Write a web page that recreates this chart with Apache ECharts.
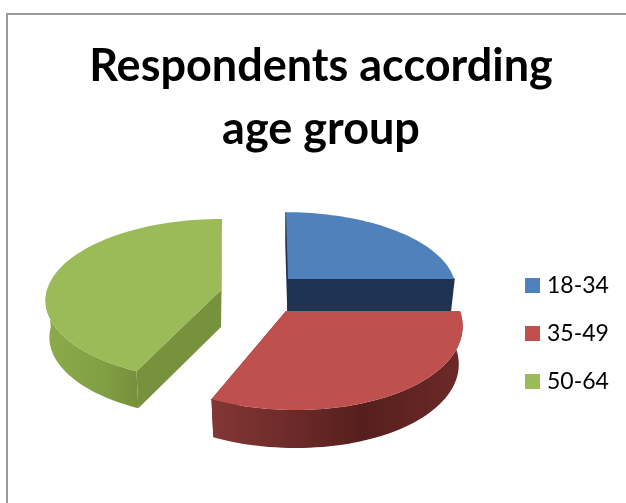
<!DOCTYPE html>
<html><head><meta charset="utf-8">
<style>html,body{margin:0;padding:0;background:#fff}#c{width:626px;height:503px}</style>
<script src="https://cdn.jsdelivr.net/npm/echarts@6/dist/echarts.min.js"></script>
</head><body><div id="c"></div>
<script>
var categories = ['18-34', '35-49', '50-64'];
var values = [25, 32, 43];
var titleLines = ['Respondents according', 'age group'];
var faceColors = ['#4f81bd', '#c0504d', '#9bbb59'];
var edgeColors = ['#1f3352', '#5a2321', '#76923c'];
var wallStops = [
  ['#1f3352', '#1f3352', '#1f3352'],
  ['#833735', '#561f1d', '#6c2a28'],
  ['#8bab4b', '#81a044', '#75903b']
];
// exploded, tilted layout of every slice (pixels)
var slices = [
  {cx: 288, cy: 279, a: 166, b: 75, depth: 32, lean: 0.03, edge: 1.5},
  {cx: 286, cy: 311, a: 174, b: 86.8, depth: 38, lean: 0.1, edge: 0},
  {cx: 221, cy: 290, a: 174, b: 79.8, depth: 37, lean: -0.014, edge: 0}
];
var persp = 0.123, inset = 0.978;
var total = values.reduce(function (s, v) { return s + v; }, 0);

function rim(l, deg, low) {
  var t = deg * Math.PI / 180, s = 1 / (1 + persp * Math.cos(t));
  var f = low ? inset : 1;
  var dy = -l.b * Math.cos(t) * s;
  return [l.cx + f * l.a * Math.sin(t) * s + l.lean * dy, l.cy + dy + (low ? l.depth : 0)];
}
function quad(l, deg) {
  return [[l.cx, l.cy], rim(l, deg), rim(l, deg, true), [l.cx, l.cy + l.depth]];
}
function makeRender(i) {
  return function () {
    var before = values.slice(0, i).reduce(function (s, v) { return s + v; }, 0);
    var start = before / total * 360, end = (before + values[i]) / total * 360;
    var l = slices[i], children = [];
    [start, end].forEach(function (d) {
      children.push({type: 'polygon', shape: {points: quad(l, d)}, style: {fill: edgeColors[i], stroke: l.edge ? edgeColors[i] : null, lineWidth: l.edge}});
    });
    var wa = Math.max(start, 90), wb = Math.min(end, 270);
    if (wb > wa) {
      var up = [], down = [], d;
      for (d = wa; d <= wb; d += 2) { up.push(rim(l, d)); down.unshift(rim(l, d, true)); }
      up.push(rim(l, wb)); down.unshift(rim(l, wb, true));
      children.push({type: 'polygon', shape: {points: up.concat(down)}, style: {
        fill: new echarts.graphic.LinearGradient(0, 0, 1, 0, [
          {offset: 0, color: wallStops[i][0]},
          {offset: 0.6, color: wallStops[i][1]},
          {offset: 1, color: wallStops[i][2]}
        ])
      }});
    }
    var face = [[l.cx, l.cy]], k;
    for (k = start; k <= end; k += 2) face.push(rim(l, k));
    face.push(rim(l, end));
    children.push({type: 'polygon', shape: {points: face}, style: {fill: faceColors[i]}});
    return {type: 'group', children: children};
  };
}
var chart = echarts.init(document.getElementById('c'), null, {renderer: 'canvas'});
chart.setOption({
  animation: false,
  backgroundColor: '#fff',
  title: {
    text: titleLines.join('\n'), left: 321, top: 35, padding: 0, textAlign: 'center',
    textStyle: {fontFamily: 'Lato', fontWeight: 'bold', fontSize: 45, lineHeight: 63, color: '#000'}
  },
  legend: {
    orient: 'vertical', left: 525, top: 274, padding: 0, icon: 'rect', itemWidth: 15, itemHeight: 15, itemGap: 25,
    data: categories,
    textStyle: {fontFamily: 'Lato', fontSize: 23, color: '#000', padding: [0, 0, 0, 2]}
  },
  graphic: [{
    type: 'polyline', silent: true,
    shape: {points: [[7, 503], [7, 14], [626, 14]]},
    style: {stroke: '#9a9a9a', lineWidth: 2, fill: null}
  }],
  series: categories.map(function (name, i) {
    return {
      type: 'custom', name: name, coordinateSystem: 'none', silent: true,
      itemStyle: {color: faceColors[i]},
      data: [[values[i]]],
      renderItem: makeRender(i)
    };
  })
});
</script></body></html>
